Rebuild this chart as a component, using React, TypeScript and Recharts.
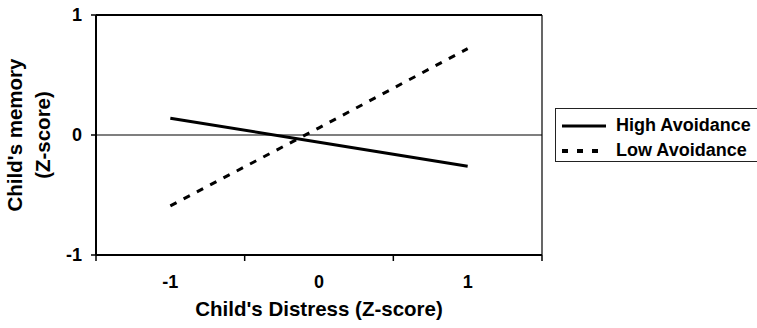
import {
  LineChart,
  Line,
  XAxis,
  YAxis,
  ReferenceLine,
  Legend,
  Label,
} from 'recharts';

const distress = [-1, 0, 1];
const highAvoidance = [0.14, -0.06, -0.26];
const lowAvoidance = [-0.59, 0.06, 0.72];
const seriesNames = ['High Avoidance', 'Low Avoidance'];
const xTicks = [-1.5, -1, -0.5, 0, 0.5, 1, 1.5];
const yTicks = [-1, 0, 1];

const FONT = '"Liberation Sans", Arial, sans-serif';

const data = distress.map((d, i) => ({
  distress: d,
  high: highAvoidance[i],
  low: lowAvoidance[i],
}));

// Excel-style category axis: tick marks between categories, labels on them
const XTick = (props: any) => {
  const { x, y, payload } = props;
  const v = payload.value;
  if (!Number.isInteger(v)) {
    return <line x1={x} x2={x} y1={y - 6} y2={y} stroke="#000" strokeWidth={1.5} />;
  }
  return (
    <text
      x={x}
      y={y + 27}
      textAnchor="middle"
      fontFamily={FONT}
      fontWeight="bold"
      fontSize={18}
      fill="#000"
    >
      {v}
    </text>
  );
};

const YTitle = () => (
  <g fontFamily={FONT} fontWeight="bold" fontSize={20.5} fill="#000">
    <text x={22} y={135} textAnchor="middle" transform="rotate(-90 22 135)">
      Child's memory
    </text>
    <text x={50} y={135} textAnchor="middle" transform="rotate(-90 50 135)">
      (Z-score)
    </text>
  </g>
);

const XTitle = () => (
  <text
    x={319}
    y={316}
    textAnchor="middle"
    fontFamily={FONT}
    fontWeight="bold"
    fontSize={20.5}
    fill="#000"
  >
    Child's Distress (Z-score)
  </text>
);

const LegendBox = () => (
  <div
    style={{
      border: '1px solid #222',
      width: 210,
      height: 54,
      boxSizing: 'border-box',
      fontFamily: FONT,
      fontWeight: 'bold',
      fontSize: 18,
      color: '#000',
      paddingTop: 4,
    }}
  >
    {seriesNames.map((name, i) => (
      <div key={name} style={{ display: 'flex', alignItems: 'center', height: 25 }}>
        <svg width={56} height={10} style={{ marginLeft: 4 }}>
          <line
            x1={2}
            x2={46}
            y1={5}
            y2={5}
            stroke="#000"
            strokeWidth={i === 1 ? 4 : 3}
            strokeDasharray={i === 1 ? '6 9' : undefined}
          />
        </svg>
        <span style={{ whiteSpace: 'nowrap' }}>{name}</span>
      </div>
    ))}
  </div>
);

export default function App() {
  return (
    <div
      style={{
        position: 'fixed',
        left: 0,
        top: 0,
        width: 757,
        height: 328,
        overflow: 'hidden',
        background: '#fff',
      }}
    >
      <LineChart
        width={757}
        height={328}
        data={data}
        margin={{ top: 15, right: 215, left: 0, bottom: 0 }}
      >
        <XAxis
          dataKey="distress"
          type="number"
          domain={[-1.5, 1.5]}
          ticks={xTicks}
          interval={0}
          height={73}
          tickSize={6}
          tickMargin={0}
          tickLine={false}
          tick={<XTick />}
          axisLine={{ stroke: '#000', strokeWidth: 2 }}
        >
          <Label content={() => <XTitle />} />
        </XAxis>
        <YAxis
          type="number"
          domain={[-1, 1]}
          ticks={yTicks}
          width={96}
          tickSize={5}
          tickMargin={9}
          axisLine={{ stroke: '#000', strokeWidth: 2 }}
          tickLine={{ stroke: '#000', strokeWidth: 1.5 }}
          tick={{ fill: '#000', fontSize: 18, fontWeight: 'bold', fontFamily: FONT }}
        >
          <Label content={() => <YTitle />} />
        </YAxis>
        <ReferenceLine y={0} stroke="#000" strokeWidth={1.2} />
        <ReferenceLine y={1} stroke="#000" strokeWidth={2} />
        <ReferenceLine x={1.5} stroke="#000" strokeWidth={1.2} />
        <Legend
          layout="horizontal"
          verticalAlign="middle"
          align="center"
          content={() => <LegendBox />}
          wrapperStyle={{ position: 'absolute', left: 555, top: 108, width: 210 }}
        />
        <Line
          type="linear"
          dataKey="high"
          name={seriesNames[0]}
          stroke="#000"
          strokeWidth={3}
          dot={false}
          isAnimationActive={false}
        />
        <Line
          type="linear"
          dataKey="low"
          name={seriesNames[1]}
          stroke="#000"
          strokeWidth={3}
          strokeDasharray="7 8"
          dot={false}
          isAnimationActive={false}
        />
      </LineChart>
    </div>
  );
}
